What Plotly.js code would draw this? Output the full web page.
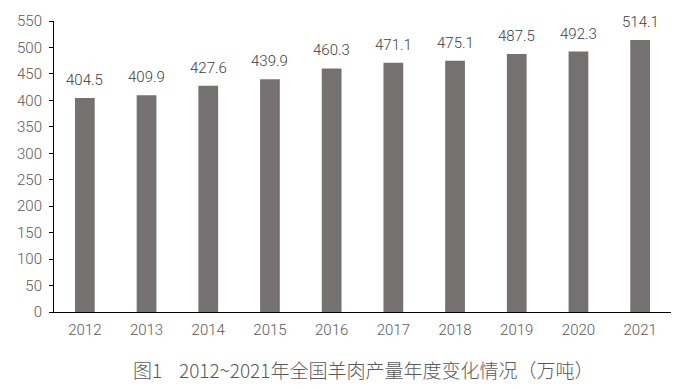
<!DOCTYPE html>
<html>
<head>
<meta charset="utf-8">
<script src="https://cdn.plot.ly/plotly-3.0.1.min.js"></script>
<style>html,body{margin:0;padding:0;background:#fff;}#chart{width:675px;height:389px;}</style>
</head>
<body>
<div id="chart"></div>
<script>
const years = ['2012','2013','2014','2015','2016','2017','2018','2019','2020','2021'];
const production = [404.5, 409.9, 427.6, 439.9, 460.3, 471.1, 475.1, 487.5, 492.3, 514.1];
const yTicks = [0, 50, 100, 150, 200, 250, 300, 350, 400, 450, 500, 550];
const chartTitle = '图1\u00a0\u00a0\u00a0 2012~2021年全国羊肉产量年度变化情况（万吨）';

const NUMFONT = 'Roboto, "Noto Sans", sans-serif';
const CJKFONT = '"Noto Sans CJK SC", "Noto Sans", sans-serif';
const labels = years.map((y, i) => ({
  x: i, y: production[i], xref: 'x', yref: 'y',
  text: production[i].toFixed(1), showarrow: false,
  yanchor: 'bottom', yshift: 7,
  font: {family: NUMFONT, size: 15, weight: 300, color: '#404040'}
}));
labels.push({
  x: 0.5, y: -0.197, xref: 'paper', yref: 'paper',
  text: chartTitle, showarrow: false, yanchor: 'middle', xanchor: 'center',
  font: {family: CJKFONT, size: 19, weight: 300, color: '#595959'}
});

Plotly.newPlot('chart', [{
  type: 'bar', x: years, y: production,
  marker: {color: '#767171'}, hoverinfo: 'none'
}], {
  width: 675, height: 389,
  margin: {l: 54, r: 4, t: 21, b: 77},
  paper_bgcolor: '#fff', plot_bgcolor: '#fff',
  bargap: 0.68,
  showlegend: false,
  font: {family: NUMFONT, size: 15, color: '#595959'},
  xaxis: {
    type: 'category', range: [-0.5, 9.5], showline: true, linecolor: '#000', linewidth: 1,
    ticks: '', showgrid: false, zeroline: false, ticklabelstandoff: 4,
    tickfont: {family: NUMFONT, size: 15, weight: 300, color: '#595959'}
  },
  yaxis: {
    range: [0, 550], tickvals: yTicks, showline: true, linecolor: '#000', linewidth: 1,
    ticks: 'outside', ticklen: 4, tickcolor: '#000', showgrid: false, zeroline: false,
    ticklabelstandoff: 4,
    tickfont: {family: NUMFONT, size: 15, weight: 300, color: '#595959'}
  },
  annotations: labels
}, {displayModeBar: false, staticPlot: true});
</script>
</body>
</html>
